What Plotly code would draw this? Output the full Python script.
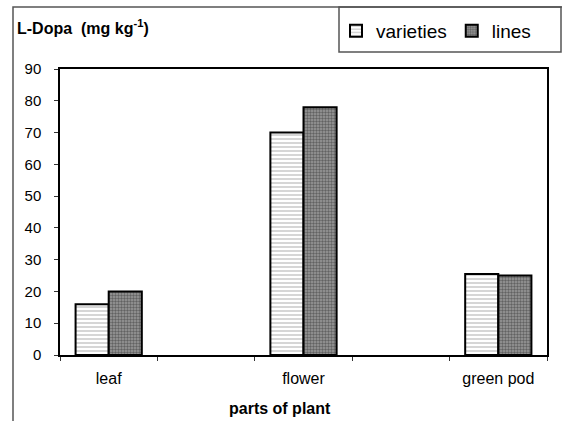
import plotly.graph_objects as go

categories = ["leaf", " ", "flower", "  ", "green pod"]
plot_parts = ["leaf", "flower", "green pod"]
varieties = [16, 70, 25.5]
lines_vals = [20, 78, 25]
y_ticks = list(range(0, 91, 10))

FONT = "Liberation Sans, Arial, sans-serif"

fig = go.Figure()
fig.add_trace(go.Bar(
    name="varieties", x=plot_parts, y=varieties,
    marker=dict(color="white", line=dict(color="black", width=2),
                pattern=dict(shape="-", fgcolor="#8a8a8a", bgcolor="white", size=4, solidity=0.35)),
))
fig.add_trace(go.Bar(
    name="lines", x=plot_parts, y=lines_vals,
    marker=dict(color="#777777", line=dict(color="black", width=2),
                pattern=dict(shape=".", fgcolor="#2a2a2a", bgcolor="#9a9a9a", size=3, solidity=0.5)),
))

W, H = 562, 421
L, R, T, B = 60, 547, 69, 355
pw, ph = R - L, B - T
def px(x): return (x - L) / pw
def py(y): return (B - y) / ph

fig.update_layout(
    width=W, height=H,
    margin=dict(l=L, r=W - R, t=T, b=H - B, autoexpand=False),
    paper_bgcolor="white", plot_bgcolor="white",
    font=dict(family=FONT, color="black", size=15),
    barmode="group", bargap=0.32, bargroupgap=0,
    showlegend=True,
    legend=dict(orientation="h", x=px(336), xanchor="left", y=py(31), yanchor="middle",
                font=dict(size=19, family=FONT), bgcolor="rgba(0,0,0,0)",
                itemwidth=30, tracegroupgap=0),
    xaxis=dict(type="category", categoryorder="array", categoryarray=categories,
               tickson="boundaries", ticks="outside", ticklen=4, tickcolor="#333",
               showline=True, linecolor="black", linewidth=2, mirror=True,
               showgrid=False, ticklabelstandoff=8, tickfont=dict(size=16, family=FONT)),
    yaxis=dict(range=[0, 90], tickvals=y_ticks, ticks="outside", ticklen=4, tickcolor="#333",
               showline=True, linecolor="black", linewidth=1.5, mirror=True,
               showgrid=False, zeroline=False, ticklabelstandoff=10,
               tickfont=dict(size=15, family=FONT)),
    shapes=[
        dict(type="rect", xref="paper", yref="paper", x0=px(13), x1=px(620), y0=py(480), y1=py(7),
             line=dict(color="#555", width=1.5), fillcolor="rgba(0,0,0,0)", layer="below"),
        dict(type="rect", xref="paper", yref="paper", x0=px(339), x1=px(561), y0=py(52), y1=py(7),
             line=dict(color="#555", width=1.5), fillcolor="rgba(0,0,0,0)"),
    ],
    annotations=[
        dict(text="<b>L-Dopa  (mg kg<sup>-1</sup>)</b>", xref="paper", yref="paper",
             x=px(15), y=py(27), xanchor="left", yanchor="middle", showarrow=False,
             font=dict(size=16, family=FONT)),
        dict(text="<b>parts of plant</b>", xref="paper", yref="paper",
             x=px(280), y=py(408), xanchor="center", yanchor="middle", showarrow=False,
             font=dict(size=16, family=FONT)),
    ],
)

fig.write_html("out.html", config={"displayModeBar": False},
               post_script="document.body.style.margin='0';document.body.style.overflow='hidden';")
